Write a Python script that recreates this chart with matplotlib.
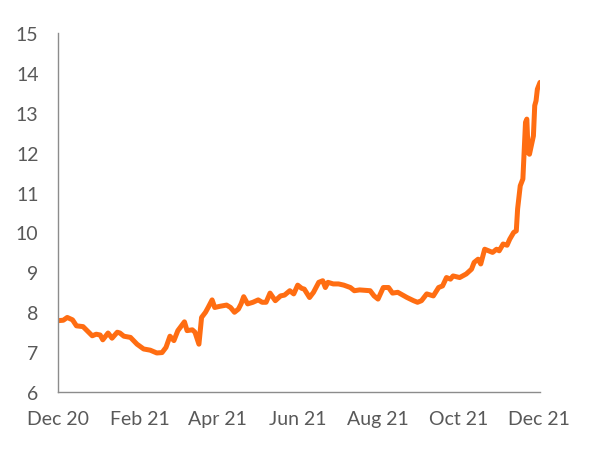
import numpy as np
import pandas as pd
import matplotlib
matplotlib.use("Agg")
import matplotlib.pyplot as plt
import matplotlib.dates as mdates

# days since 2020-12-01
days = [
    0, 4, 7, 11, 14, 19, 26, 29, 32, 34, 38, 41, 45, 47, 50, 55, 60, 65, 70, 75,
    79, 82, 85, 88, 91, 96, 98, 102, 104, 107, 109, 112, 114, 117, 119, 123, 128,
    131, 134, 137, 139, 141, 144, 148, 152, 155, 158, 161, 165, 169, 172, 176,
    179, 182, 185, 187, 191, 194, 198, 201, 203, 205, 209, 213, 217, 222, 225,
    229, 237, 240, 243, 247, 251, 254, 258, 265, 270, 273, 276, 280, 285, 289,
    292, 295, 298, 300, 305, 310, 314, 316, 319, 321, 324, 327, 330, 333, 335,
    338, 341, 343, 346, 348, 349, 351, 353, 355, 356, 357, 358, 361, 362, 363,
    364, 366,
]
values = [
    7.79, 7.80, 7.87, 7.81, 7.66, 7.64, 7.41, 7.45, 7.43, 7.31, 7.48, 7.35, 7.50,
    7.48, 7.40, 7.37, 7.20, 7.08, 7.05, 6.98, 6.99, 7.12, 7.40, 7.29, 7.54, 7.76,
    7.54, 7.56, 7.50, 7.20, 7.87, 8.00, 8.12, 8.31, 8.12, 8.15, 8.18, 8.12, 8.00,
    8.08, 8.21, 8.39, 8.21, 8.25, 8.31, 8.25, 8.25, 8.48, 8.29, 8.41, 8.43, 8.54,
    8.46, 8.68, 8.60, 8.58, 8.37, 8.50, 8.75, 8.79, 8.62, 8.75, 8.71, 8.71, 8.68,
    8.62, 8.54, 8.56, 8.54, 8.41, 8.33, 8.62, 8.62, 8.48, 8.50, 8.37, 8.29, 8.25,
    8.29, 8.46, 8.41, 8.62, 8.66, 8.87, 8.83, 8.91, 8.87, 8.96, 9.08, 9.25, 9.33,
    9.21, 9.58, 9.54, 9.50, 9.58, 9.54, 9.71, 9.68, 9.83, 10.00, 10.04, 10.59,
    11.17, 11.34, 12.76, 12.84, 12.00, 11.96, 12.42, 13.18, 13.30, 13.59, 13.76,
]
tick_labels = ["Dec 20", "Feb 21", "Apr 21", "Jun 21", "Aug 21", "Oct 21", "Dec 21"]
tick_dates = ["2020-12-01", "2021-02-01", "2021-04-01", "2021-06-01",
              "2021-08-01", "2021-10-01", "2021-12-01"]

start = pd.Timestamp("2020-12-01")
dates = start + pd.to_timedelta(days, unit="D")

plt.rcParams["font.family"] = ["Lato", "DejaVu Sans"]

fig = plt.figure(figsize=(6, 4.56), dpi=100)
ax = fig.add_axes([0.0967, 0.138, 0.8033, 0.7876])

ax.plot(dates, values, color="#FF6D12", linewidth=3.6, solid_joinstyle="round",
        solid_capstyle="round")

ax.set_ylim(6, 15)
ax.set_yticks(range(6, 16))
ax.set_xlim(start, start + pd.Timedelta(days=366))
ax.set_xticks(pd.to_datetime(tick_dates))
ax.set_xticklabels(tick_labels)

for side in ["top", "right"]:
    ax.spines[side].set_visible(False)
for side in ["left", "bottom"]:
    ax.spines[side].set_color("#8c8c8c")
    ax.spines[side].set_linewidth(1.0)

ax.tick_params(axis="both", length=0, labelsize=14, colors="#595959")
ax.tick_params(axis="y", pad=14)
ax.tick_params(axis="x", pad=13)

fig.savefig("out.png", dpi=100)
